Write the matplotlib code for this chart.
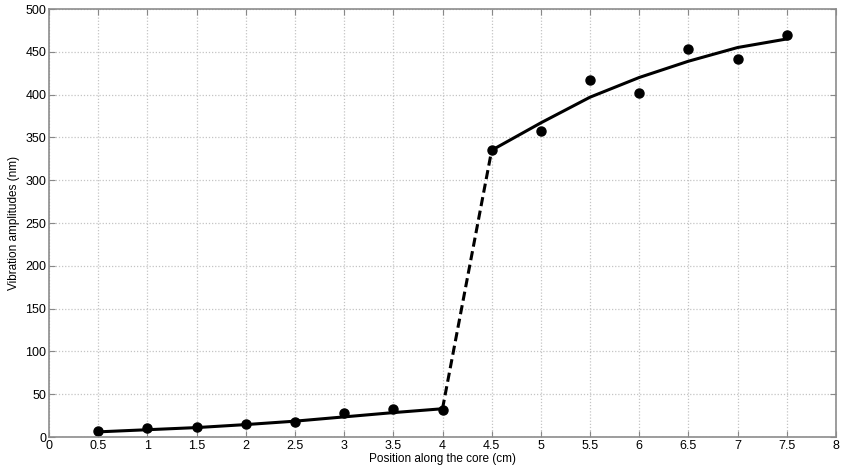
import numpy as np
import matplotlib
matplotlib.use("Agg")
from matplotlib import pyplot as plt

plt.rcParams['font.family'] = ['Liberation Sans', 'DejaVu Sans']

# measured points
pos = [0.5, 1, 1.5, 2, 2.5, 3, 3.5, 4, 4.5, 5, 5.5, 6, 6.5, 7, 7.5]
amp = [7, 10, 12, 15, 18, 28, 33, 32, 335, 357, 417, 402, 453, 442, 470]

# fitted curves (low part, jump, high part)
fit_low_x = [0.5, 1, 1.5, 2, 2.5, 3, 3.5, 4]
fit_low_y = [6, 8.5, 11, 14.5, 18.5, 23.5, 28.5, 33]
jump_x = [4, 4.5]
jump_y = [33, 335]
fit_high_x = [4.5, 5, 5.5, 6, 6.5, 7, 7.5]
fit_high_y = [335, 367, 397, 420, 439, 455, 465]

fig = plt.figure(figsize=(8.42, 4.72), dpi=100)
ax = fig.add_axes([49 / 842, 1 - 437 / 472, 787 / 842, 428 / 472])

ax.plot(fit_low_x, fit_low_y, color='black', lw=2.2)
ax.plot(jump_x, jump_y, color='black', lw=2.2, ls=(0, (3, 1.5)))
ax.plot(fit_high_x, fit_high_y, color='black', lw=2.2)
ax.plot(pos, amp, 'o', color='black', ms=6.5)

ax.set_xlim(0, 8)
ax.set_ylim(0, 500)
ax.set_xticks(np.arange(0, 8.01, 0.5))
ax.set_xticklabels(['0', '0.5', '1', '1.5', '2', '2.5', '3', '3.5', '4',
                    '4.5', '5', '5.5', '6', '6.5', '7', '7.5', '8'])
ax.set_yticks(np.arange(0, 501, 50))
ax.grid(True, color='#c4c4c4', ls=(0, (1, 1.5)), lw=0.9)
ax.tick_params(direction='in', top=True, right=True, labelsize=9,
               length=4, color='#888888', pad=2)
for s in ax.spines.values():
    s.set_color('#8c8c8c')
    s.set_linewidth(1.2)

ax.set_xlabel('Position along the core (cm)', fontsize=8.5, labelpad=1)
ax.set_ylabel('Vibration amplitudes (nm)', fontsize=8.5, labelpad=4)

fig.savefig('out.png', dpi=100)
